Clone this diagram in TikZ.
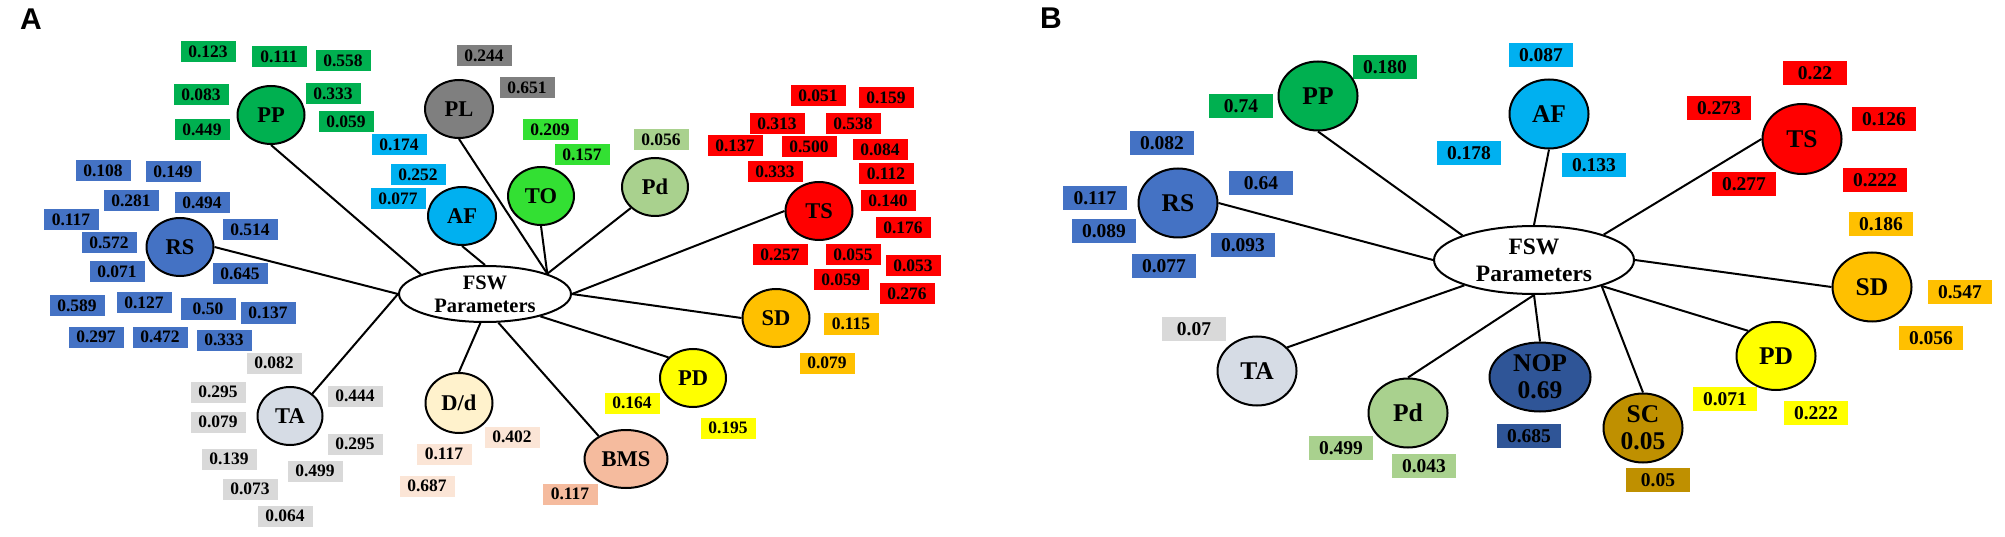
\documentclass[tikz,border=0pt]{standalone}
\usepackage{fontspec}
\setmainfont{Liberation Serif}
\newfontfamily\labfont{Liberation Sans}
\usetikzlibrary{shapes.geometric}
\definecolor{cG}{HTML}{00B050}
\definecolor{cB}{HTML}{4472C4}
\definecolor{cPL}{HTML}{7F7F7F}
\definecolor{cAF}{HTML}{00B0F0}
\definecolor{cTO}{HTML}{33E033}
\definecolor{cPd}{HTML}{A9D18E}
\definecolor{cR}{HTML}{FF0000}
\definecolor{cSD}{HTML}{FFC000}
\definecolor{cY}{HTML}{FFFF00}
\definecolor{cBMS}{HTML}{F5BB9E}
\definecolor{cDd}{HTML}{FFF2CC}
\definecolor{cDdBox}{HTML}{FBE5D6}
\definecolor{cTA}{HTML}{D6DCE5}
\definecolor{cGray}{HTML}{D9D9D9}
\definecolor{cNOP}{HTML}{2F5597}
\definecolor{cSC}{HTML}{BF9000}
\tikzset{
  vboxA/.style={rectangle, inner sep=0pt, minimum width=55pt, minimum height=21pt, font=\bfseries\fontsize{17.5}{17.5}\selectfont},
  vboxB/.style={rectangle, inner sep=0pt, minimum width=64pt, minimum height=24pt, font=\bfseries\fontsize{19.5}{19.5}\selectfont},
  pnodeA/.style={ellipse, draw, line width=2pt, inner sep=0pt, minimum width=67pt, minimum height=58pt, font=\bfseries\fontsize{22.5}{22.5}\selectfont, align=center},
  pnodeB/.style={ellipse, draw, line width=2pt, inner sep=0pt, minimum width=79pt, minimum height=69pt, font=\bfseries\fontsize{25.5}{27}\selectfont, align=center},
  link/.style={line width=2pt},
  panel/.style={font=\labfont\bfseries\fontsize{30}{30}\selectfont, inner sep=0pt}
}
\begin{document}
\begin{tikzpicture}[x=1pt,y=-1pt]
\useasboundingbox (0,0) rectangle (2005,537);
\fill[white] (0,0) rectangle (2005,537);
\node[panel] (labA) at (31,19) {A};
\node[panel] (labB) at (1051,18) {B};

% ---------------- Panel A boxes ----------------
\foreach \x/\y/\t [count=\i] in {208/52/0.123, 279/57/0.111, 343/61/0.558, 201/95/0.083, 333/94/0.333, 202/130/0.449, 346/122/0.059}
  \node[vboxA, fill=cG] (ag\i) at (\x,\y) {\t};
\foreach \x/\y/\t [count=\i] in {399/145/0.174, 418/175/0.252, 398/199/0.077}
  \node[vboxA, fill=cAF] (aaf\i) at (\x,\y) {\t};
\foreach \x/\y/\t [count=\i] in {103/171/0.108, 173/172/0.149, 131/201/0.281, 202/203/0.494, 71/220/0.117, 250/230/0.514, 109/243/0.572, 117/272/0.071, 240/274/0.645, 77/306/0.589, 144/303/0.127, 208/309/0.50, 268/313/0.137, 96/337/0.297, 160/337/0.472, 224/340/0.333}
  \node[vboxA, fill=cB] (ab\i) at (\x,\y) {\t};
\foreach \x/\y/\t [count=\i] in {274/363/0.082, 218/392/0.295, 355/396/0.444, 218/422/0.079, 355/444/0.295, 229/459/0.139, 315/471/0.499, 250/489/0.073, 285/516/0.064}
  \node[vboxA, fill=cGray] (ata\i) at (\x,\y) {\t};
\foreach \x/\y/\t [count=\i] in {484/56/0.244, 527/88/0.651}
  \node[vboxA, fill=cPL] (apl\i) at (\x,\y) {\t};
\foreach \x/\y/\t [count=\i] in {550/130/0.209, 582/155/0.157}
  \node[vboxA, fill=cTO] (ato\i) at (\x,\y) {\t};
\node[vboxA, fill=cPd] (apd1) at (661,140) {0.056};
\foreach \x/\y/\t [count=\i] in {818/96/0.051, 886/98/0.159, 777/124/0.313, 853/124/0.538, 735/146/0.137, 809/147/0.500, 880/150/0.084, 775/172/0.333, 886/174/0.112, 888/201/0.140, 903/228/0.176, 780/255/0.257, 853/255/0.055, 913/266/0.053, 841/280/0.059, 907/294/0.276}
  \node[vboxA, fill=cR] (ats\i) at (\x,\y) {\t};
\foreach \x/\y/\t [count=\i] in {851/324/0.115, 827/363/0.079}
  \node[vboxA, fill=cSD] (asd\i) at (\x,\y) {\t};
\foreach \x/\y/\t [count=\i] in {632/403/0.164, 728/428/0.195}
  \node[vboxA, fill=cY] (apdd\i) at (\x,\y) {\t};
\foreach \x/\y/\t [count=\i] in {512/437/0.402, 444/454/0.117, 427/486/0.687}
  \node[vboxA, fill=cDdBox] (add\i) at (\x,\y) {\t};
\node[vboxA, fill=cBMS] (abms1) at (570,494) {0.117};

% ---------------- Panel A nodes ----------------
\node[pnodeA, fill=white, minimum width=172pt, minimum height=56pt, font=\bfseries\fontsize{20.5}{23}\selectfont] (aFSW) at (485,294) {FSW\\Parameters};
\node[pnodeA, fill=cG] (aPP) at (271,115) {PP};
\node[pnodeA, fill=cB] (aRS) at (180,247) {RS};
\node[pnodeA, fill=cPL, minimum width=68pt] (aPL) at (459,109) {PL};
\node[pnodeA, fill=cAF, minimum width=68pt] (aAF) at (462,216) {AF};
\node[pnodeA, fill=cTO, minimum width=66pt] (aTO) at (541,196) {TO};
\node[pnodeA, fill=cPd, minimum width=66pt] (aPd) at (655,187) {Pd};
\node[pnodeA, fill=cR] (aTS) at (819,211) {TS};
\node[pnodeA, fill=cSD] (aSD) at (776,318) {SD};
\node[pnodeA, fill=cY, minimum width=66pt] (aPD) at (693,378) {PD};
\node[pnodeA, fill=cDd, minimum height=60pt] (aDd) at (459,403) {D/d};
\node[pnodeA, fill=cBMS, minimum width=83pt] (aBMS) at (626,459) {BMS};
\node[pnodeA, fill=cTA, minimum width=65pt] (aTA) at (290,416) {TA};

\coordinate (aHub) at (aFSW.18);
\draw[link] (aPP.south) -- (aFSW.163);
\draw[link] (aRS.east) -- (aFSW.west);
\draw[link] (aTA.45) -- (aFSW.west);
\draw[link] (aAF.south) -- (aFSW.north);
\draw[link] (aPL.south) -- (aHub);
\draw[link] (aTO.south) -- (aHub);
\draw[link] (aPd.221) -- (aHub);
\draw[link] (aTS.west) -- (aFSW.east);
\draw[link] (aSD.west) -- (aFSW.east);
\draw[link] (aPD.140) -- (aFSW.338);
\draw[link] (aDd.north) -- (aFSW.261);
\draw[link] (aBMS.140) -- (aFSW.295);

% ---------------- Panel B boxes ----------------
\foreach \x/\y/\t [count=\i] in {1385/67/0.180, 1241/106/0.74}
  \node[vboxB, fill=cG] (bg\i) at (\x,\y) {\t};
\foreach \x/\y/\t [count=\i] in {1162/143/0.082, 1261/183/0.64, 1095/198/0.117, 1104/231/0.089, 1243/245/0.093, 1164/266/0.077}
  \node[vboxB, fill=cB] (bb\i) at (\x,\y) {\t};
\foreach \x/\y/\t [count=\i] in {1469/153/0.178, 1541/55/0.087, 1594/165/0.133}
  \node[vboxB, fill=cAF] (baf\i) at (\x,\y) {\t};
\foreach \x/\y/\t [count=\i] in {1815/73/0.22, 1719/108/0.273, 1884/119/0.126, 1744/184/0.277, 1875/180/0.222}
  \node[vboxB, fill=cR] (bts\i) at (\x,\y) {\t};
\foreach \x/\y/\t [count=\i] in {1881/224/0.186, 1960/292/0.547, 1931/338/0.056}
  \node[vboxB, fill=cSD] (bsd\i) at (\x,\y) {\t};
\node[vboxB, fill=cGray] (bta1) at (1194,329) {0.07};
\foreach \x/\y/\t [count=\i] in {1341/448/0.499, 1424/466/0.043}
  \node[vboxB, fill=cPd] (bpd\i) at (\x,\y) {\t};
\node[vboxB, fill=cNOP] (bnop1) at (1529,436) {0.685};
\foreach \x/\y/\t [count=\i] in {1725/399/0.071, 1816/413/0.222}
  \node[vboxB, fill=cY] (bpdd\i) at (\x,\y) {\t};
\node[vboxB, fill=cSC] (bsc1) at (1658,480) {0.05};

% ---------------- Panel B nodes ----------------
\node[pnodeB, fill=white, minimum width=200pt, minimum height=68pt, font=\bfseries\fontsize{23.5}{27}\selectfont] (bFSW) at (1534,260) {FSW\\Parameters};
\node[pnodeB, fill=cG] (bPP) at (1318,96) {PP};
\node[pnodeB, fill=cAF] (bAF) at (1549,114) {AF};
\node[pnodeB, fill=cR, minimum height=70pt] (bTS) at (1802,139) {TS};
\node[pnodeB, fill=cSD] (bSD) at (1872,287) {SD};
\node[pnodeB, fill=cB] (bRS) at (1178,203) {RS};
\node[pnodeB, fill=cTA] (bTA) at (1257,371) {TA};
\node[pnodeB, fill=cPd] (bPd) at (1408,413) {Pd};
\node[pnodeB, fill=cNOP, minimum width=101pt] (bNOP) at (1540,377) {NOP\\0.69};
\node[pnodeB, fill=cSC] (bSC) at (1643,428) {SC\\0.05};
\node[pnodeB, fill=cY, minimum height=68pt] (bPD) at (1776,356) {PD};

\draw[link] (bPP.south) -- (bFSW.161);
\draw[link] (bAF.south) -- (bFSW.north);
\draw[link] (bTS.west) -- (bFSW.20);
\draw[link] (bSD.west) -- (bFSW.east);
\draw[link] (bRS.east) -- (bFSW.west);
\draw[link] (bTA.38) -- (bFSW.200);
\draw[link] (bPd.north) -- (bFSW.south);
\draw[link] (bNOP.north) -- (bFSW.south);
\draw[link] (bSC.north) -- (bFSW.339);
\draw[link] (bPD.138) -- (bFSW.339);
\end{tikzpicture}
\end{document}
